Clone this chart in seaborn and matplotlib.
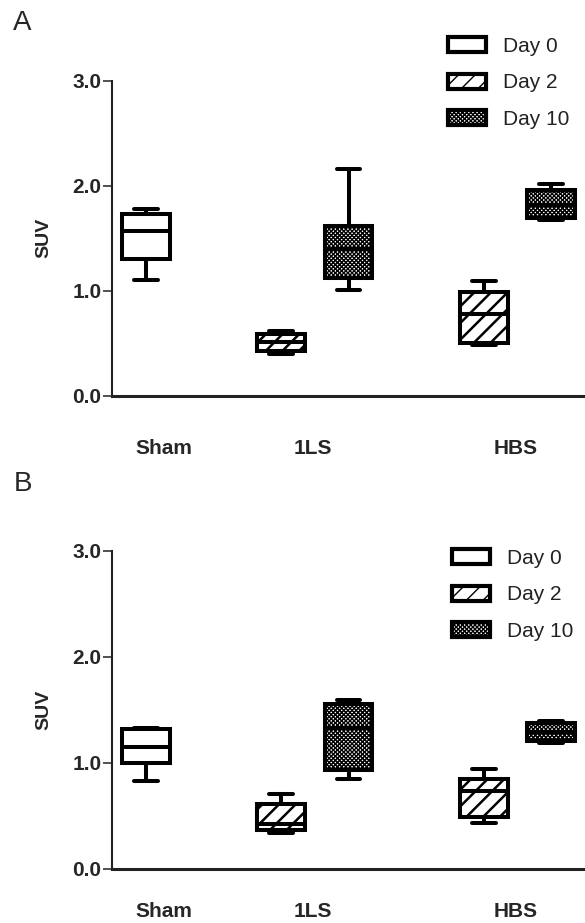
import matplotlib
matplotlib.use("Agg")
import matplotlib.pyplot as plt
import matplotlib.patches as mpatches
import pandas as pd
import seaborn as sns

# groups and days of each box, in drawing order
groups = ["Sham", "1LS", "1LS", "HBS", "HBS"]
days = ["Day 0", "Day 2", "Day 10", "Day 2", "Day 10"]

# five-number summaries: min, Q1, median, Q3, max
suv_a = [
    [1.10, 1.30, 1.565, 1.73, 1.78],
    [0.40, 0.42, 0.51, 0.59, 0.61],
    [1.01, 1.12, 1.40, 1.62, 2.16],
    [0.48, 0.50, 0.78, 0.99, 1.09],
    [1.67, 1.69, 1.82, 1.96, 2.02],
]
suv_b = [
    [0.83, 1.00, 1.15, 1.32, 1.33],
    [0.34, 0.37, 0.42, 0.61, 0.71],
    [0.85, 0.93, 1.33, 1.56, 1.59],
    [0.43, 0.49, 0.74, 0.85, 0.94],
    [1.19, 1.21, 1.29, 1.38, 1.40],
]

group_names = ["Sham", "1LS", "HBS"]
day_names = ["Day 0", "Day 2", "Day 10"]
yticks = [0.0, 1.0, 2.0, 3.0]

# one slot per box, empty slots for the missing Day 0 boxes
slot_order = ["Sham / Day 0"] + [f"{g} / {d}" for g in group_names[1:] for d in day_names]
label_pos = [0.27, 2.47, 5.47]
hatches = {"Day 0": "", "Day 2": "//", "Day 10": "xxxxxxxx"}

sns.set_style("ticks")
plt.rcParams["font.family"] = ["Liberation Sans", "DejaVu Sans"]
plt.rcParams["hatch.linewidth"] = 1.0

W, H = 585, 923


def make_frame(values):
    rows = []
    for g, d, vals in zip(groups, days, values):
        for v in vals:
            rows.append({"slot": f"{g} / {d}", "Day": d, "SUV": v})
    return pd.DataFrame(rows)


def draw_panel(ax, values, label_pad):
    df = make_frame(values)
    sns.boxplot(
        data=df, x="slot", y="SUV", hue="Day",
        order=slot_order, hue_order=day_names,
        palette=["white"] * 3, saturation=1, dodge=False,
        width=0.71, whis=(0, 100), showfliers=False,
        linecolor="black", linewidth=2.9, legend=False, ax=ax,
    )
    for patch in ax.patches:
        ext = patch.get_path().get_extents()
        idx = int(round((ext.x0 + ext.x1) / 2))
        day = slot_order[idx].split(" / ")[1]
        patch.set_hatch(hatches[day])
        if day == "Day 2" and hasattr(patch, "set_hatch_linewidth"):
            patch.set_hatch_linewidth(1.8)

    ax.set_xlim(-0.5, 6.5)
    ax.set_ylim(0, 3)
    ax.set_yticks(yticks)
    ax.set_yticklabels([f"{t:.1f}" for t in yticks], fontsize=15, fontweight="bold")
    ax.set_xticks(label_pos)
    ax.set_xticklabels(group_names, fontsize=15, fontweight="bold")
    ax.tick_params(axis="x", length=0, pad=label_pad)
    ax.tick_params(axis="y", length=6.5, width=1.1, pad=1, color="#222222")
    ax.set_xlabel("")
    ax.set_ylabel("SUV", fontsize=14, fontweight="bold")
    ax.yaxis.set_label_coords(-0.127, 0.5)
    sns.despine(ax=ax)
    ax.spines["left"].set_linewidth(1.5)
    ax.spines["bottom"].set_linewidth(2.2)
    ax.spines["left"].set_color("#222222")
    ax.spines["bottom"].set_color("#222222")


def add_legend(ax, fig, x_px, top_px):
    handles = [
        mpatches.Patch(facecolor="white", edgecolor="black", linewidth=3,
                       hatch=hatches[d], label=d)
        for d in day_names
    ]
    leg = ax.legend(
        handles=handles, loc="upper left",
        bbox_to_anchor=(x_px / W, 1 - top_px / H), bbox_transform=fig.transFigure,
        frameon=False, borderpad=0, borderaxespad=0,
        handlelength=1.8, handleheight=0.75, handletextpad=0.85,
        labelspacing=0.84, prop={"size": 15},
    )
    for t in leg.get_texts():
        t.set_color("#222222")


fig = plt.figure(figsize=(W / 100, H / 100), dpi=100)
ax_a = fig.add_axes([112 / W, 1 - 395.5 / H, 1 - 112 / W, (395.5 - 80.7) / H])
ax_b = fig.add_axes([112 / W, 1 - 869 / H, 1 - 112 / W, (869 - 551) / H])

draw_panel(ax_a, suv_a, 31)
draw_panel(ax_b, suv_b, 24)
add_legend(ax_a, fig, 448, 37)
add_legend(ax_b, fig, 452, 549)

fig.text(22 / W, 1 - 23 / H, "A", fontsize=20, ha="center", va="center")
fig.text(23 / W, 1 - 484 / H, "B", fontsize=20, ha="center", va="center")

fig.savefig("out.png", dpi=100)
